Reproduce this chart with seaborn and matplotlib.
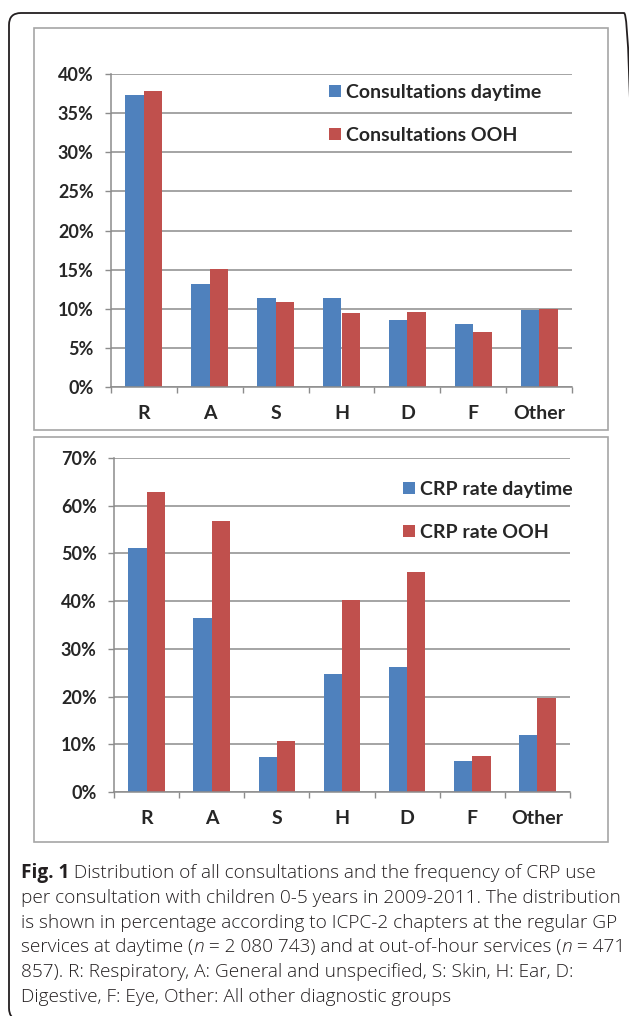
import matplotlib
matplotlib.use("Agg")
import matplotlib.pyplot as plt
import numpy as np
import pandas as pd
import seaborn as sns
from matplotlib.patches import FancyBboxPatch, Rectangle
from matplotlib.ticker import PercentFormatter

W, H = 629, 1016
BLUE = "#4F81BD"
RED = "#C0504D"
GRID = "#8c8c8c"

chapters = ["R", "A", "S", "H", "D", "F", "Other"]

consult_day = [37.3, 13.2, 11.4, 11.4, 8.6, 8.0, 9.8]
consult_ooh = [37.8, 15.1, 10.8, 9.5, 9.6, 7.0, 10.0]
consult_labels = ["Consultations daytime", "Consultations OOH"]

crp_day = [51.1, 36.4, 7.4, 24.7, 26.1, 6.4, 12.0]
crp_ooh = [62.9, 56.9, 10.6, 40.3, 46.2, 7.6, 19.7]
crp_labels = ["CRP rate daytime", "CRP rate OOH"]

caption_lines = [
    [("Fig. 1", "bold"), (" Distribution of all consultations and the frequency of CRP use", "normal")],
    [("per consultation with children 0-5 years in 2009-2011. The distribution", "normal")],
    [("is shown in percentage according to ICPC-2 chapters at the regular GP", "normal")],
    [("services at daytime (", "normal"), ("n", "italic"), (" = 2 080 743) and at out-of-hour services (", "normal"),
     ("n", "italic"), (" = 471", "normal")],
    [("857). R: Respiratory, A: General and unspecified, S: Skin, H: Ear, D:", "normal")],
    [("Digestive, F: Eye, Other: All other diagnostic groups", "normal")],
]

sns.set_style("white")
plt.rcParams["font.family"] = ["Lato", "DejaVu Sans"]


def fx(x):
    return x / W


def fy(y):
    return 1 - y / H


def AxesRect(left, top, right, bottom):
    return [fx(left), fy(bottom), fx(right) - fx(left), fy(top) - fy(bottom)]


def DrawPanel(ax, day, ooh, labels, ymax, step, legend_xy):
    data = pd.DataFrame(
        {
            "chapter": chapters * 2,
            "series": [labels[0]] * len(chapters) + [labels[1]] * len(chapters),
            "value": day + ooh,
        }
    )
    sns.barplot(data=data, x="chapter", y="value", hue="series", palette=[BLUE, RED],
                width=0.56, saturation=1, edgecolor="none", ax=ax)
    ax.set_xlim(-0.5, len(chapters) - 0.5)
    ax.set_ylim(0, ymax)
    ax.set_yticks(np.arange(0, ymax + step / 2, step))
    ax.yaxis.set_major_formatter(PercentFormatter(xmax=100, decimals=0))
    ax.yaxis.grid(True, color=GRID, linewidth=1.1)
    ax.set_axisbelow(True)
    ax.set_xlabel("")
    ax.set_ylabel("")

    ax.set_xticks(np.arange(-0.5, len(chapters), 1))
    ax.set_xticklabels([])
    ax.set_xticks(range(len(chapters)), minor=True)
    ax.set_xticklabels(chapters, minor=True)
    ax.tick_params(axis="x", which="major", direction="out", length=4.5, width=1, color=GRID, bottom=True)
    ax.tick_params(axis="x", which="minor", length=0, pad=13, labelsize=14, bottom=True)
    ax.tick_params(axis="y", direction="out", length=4.5, width=1, color=GRID, pad=8, labelsize=13, left=True)
    for label in ax.get_xticklabels(minor=True) + ax.get_yticklabels():
        label.set_fontweight("bold")

    for side in ["top", "right"]:
        ax.spines[side].set_visible(False)
    for side in ["left", "bottom"]:
        ax.spines[side].set_color(GRID)
        ax.spines[side].set_linewidth(1.1)

    handles, names = ax.get_legend_handles_labels()
    ax.legend(handles, names, loc="upper left", bbox_to_anchor=(fx(legend_xy[0]), fy(legend_xy[1])),
              bbox_transform=fig.transFigure, frameon=False, prop={"weight": "bold", "size": 14},
              handlelength=0.6, handleheight=0.6, handletextpad=0.3, labelspacing=1.32, borderpad=0,
              borderaxespad=0)


fig = plt.figure(figsize=(W / 100, H / 100), dpi=100)

# Rahmen rundherum und die zwei grauen Panels.
fig.add_artist(FancyBboxPatch((fx(9), fy(1020)), fx(636) - fx(9), fy(13) - fy(1020),
                              boxstyle="round,pad=0,rounding_size=0.019", mutation_aspect=W / H,
                              transform=fig.transFigure, facecolor="none", edgecolor="#231f20", linewidth=1.3))
for top, bottom in [(28, 430), (437, 842)]:
    fig.add_artist(Rectangle((fx(34), fy(bottom)), fx(608) - fx(34), fy(top) - fy(bottom),
                             transform=fig.transFigure, facecolor="none", edgecolor="#a6a6a6", linewidth=1.2))

ax_top = fig.add_axes(AxesRect(111, 74, 572, 387))
DrawPanel(ax_top, consult_day, consult_ooh, consult_labels, 40, 5, (329, 84))

ax_bottom = fig.add_axes(AxesRect(114, 458, 570, 792))
DrawPanel(ax_bottom, crp_day, crp_ooh, crp_labels, 70, 10, (403, 481))

# Bildunterschrift Zeile fuer Zeile, damit fett/kursiv passt.
renderer = fig.canvas.get_renderer()
style_map = {"bold": {"fontweight": "bold"}, "italic": {"fontstyle": "italic", "fontweight": "light"},
             "normal": {"fontweight": "light"}}
for index, runs in enumerate(caption_lines):
    x = 21
    y = 878 + index * 24.8
    for text, style in runs:
        piece = fig.text(fx(x), fy(y), text, va="baseline", ha="left", fontsize=13.7,
                         family=["Open Sans", "DejaVu Sans"], color="#231f20", **style_map[style])
        x += piece.get_window_extent(renderer).width

fig.savefig("out.png", dpi=100)
